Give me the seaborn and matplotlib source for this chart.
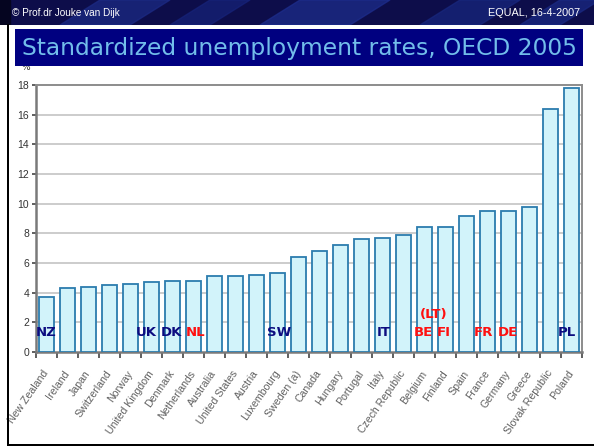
import numpy as np
import pandas as pd
import matplotlib
matplotlib.use("Agg")
import matplotlib.pyplot as plt
from matplotlib.patches import Rectangle, Polygon
import seaborn as sns

countries = ["New Zealand", "Ireland", "Japan", "Switzerland", "Norway",
             "United Kingdom", "Denmark", "Netherlands", "Australia",
             "United States", "Austria", "Luxembourg", "Sweden (a)", "Canada",
             "Hungary", "Portugal", "Italy", "Czech Republic", "Belgium",
             "Finland", "Spain", "France", "Germany", "Greece",
             "Slovak Republic", "Poland"]
rates = [3.7, 4.3, 4.4, 4.5, 4.6, 4.7, 4.8, 4.8, 5.1, 5.1, 5.2, 5.3, 6.4,
         6.8, 7.2, 7.6, 7.7, 7.9, 8.4, 8.4, 9.2, 9.5, 9.5, 9.8, 16.4, 17.8]

# in-bar annotations: text, x position (category units), colour
ann_text = ["NZ", "UK", "DK", "NL", "SW", "IT", "BE", "FI", "FR", "DE", "PL"]
ann_x = [0.0, 4.75, 5.93, 7.12, 11.07, 16.07, 17.93, 18.93, 20.83, 21.98, 24.79]
ann_col = ["navy", "navy", "navy", "red", "navy", "navy", "red", "red",
           "red", "red", "navy"]
yticks = [0, 2, 4, 6, 8, 10, 12, 14, 16, 18]

df = pd.DataFrame({"country": countries, "rate": rates})

sns.set_style("white")
plt.rcParams["font.family"] = ["DejaVu Sans"]

W, H = 594, 447
fig = plt.figure(figsize=(W / 100, H / 100), dpi=100)
fig.patch.set_facecolor("white")

def fx(px):
    return px / W

def fy(py):
    return 1 - py / H

ax = fig.add_axes([fx(36), fy(352), fx(582) - fx(36), fy(85) - fy(352)])
sns.barplot(data=df, x="country", y="rate", color="#d2f3fa",
            edgecolor="#2b7cae", linewidth=1.3, width=0.76, saturation=1,
            ax=ax, zorder=3)
ax.set_xlim(-0.5, len(countries) - 0.5)
ax.set_ylim(0, 18)
ax.set_yticks(yticks)
ax.set_yticklabels([str(v) for v in yticks], family="Liberation Sans",
                   fontsize=7.5, color="#333333")
for v in yticks[1:-1]:
    ax.axhline(v, color="#c4c4c4", lw=1.2, zorder=1)
ax.set_xlabel("")
ax.set_ylabel("")
ax.set_xticks(np.arange(len(countries)))
ax.set_xticklabels(countries, rotation=55, ha="right", va="center",
                   rotation_mode="anchor", family="Liberation Sans",
                   fontsize=7.6, color="#606060")
ax.tick_params(axis="x", which="major", length=0, pad=14)
ax.set_xticks(np.arange(-0.5, len(countries), 1), minor=True)
ax.tick_params(axis="x", which="minor", length=4, width=1.2,
               color="#444444", direction="out", bottom=True)
ax.tick_params(axis="y", length=3, width=1.2, color="#444444",
               direction="out", left=True, pad=2)
for side in ["left", "bottom"]:
    ax.spines[side].set_color("#7a7a7a")
    ax.spines[side].set_linewidth(1.8)
for side in ["top", "right"]:
    ax.spines[side].set_color("#8c8c8c")
    ax.spines[side].set_linewidth(1.4)
    ax.spines[side].set_visible(True)

for t, xpos, c in zip(ann_text, ann_x, ann_col):
    ax.text(xpos, 1.3, t, ha="center", va="center", fontsize=9.5,
            fontweight="bold", color="#0c0c80" if c == "navy" else "#ff1010",
            zorder=5)
ax.text(18.43, 2.55, "(LT)", ha="center", va="center", fontsize=9.5,
        fontweight="bold", color="#ff1010", zorder=5)

# slide decoration: header band
hdr = fig.add_axes([0, fy(25), 1, fy(0) - fy(25)])
hdr.set_xlim(0, W)
hdr.set_ylim(25, 0)
hdr.axis("off")
hdr.add_patch(Rectangle((0, 0), W, 25, color="#0d0d4a"))
for x0, w, col in [(60, 70, "#1c2b86"), (170, 40, "#16237a"),
                   (260, 90, "#1d2e8e"), (420, 60, "#18287f"),
                   (520, 40, "#1a2a85")]:
    hdr.add_patch(Polygon([(x0, 25), (x0 + w, 25), (x0 + w + 40, 0),
                           (x0 + 40, 0)], closed=True, color=col, alpha=0.7))
hdr.add_patch(Rectangle((0, 0), 10, 25, color="#050520"))
hdr.text(12, 13, "\u00a9 Prof.dr Jouke van Dijk", color="white",
         fontsize=7.2, family="Liberation Sans", va="center", ha="left")
hdr.text(580, 13, "EQUAL, 16-4-2007", color="white", fontsize=7.8,
         family="Liberation Sans", va="center", ha="right")

# percent sign partially hidden by the title box
fig.text(fx(26), fy(72), "%", fontsize=6.5, color="#333333",
         ha="center", va="bottom", zorder=1)

# title box
fig.patches.append(Rectangle((fx(15), fy(66)), fx(583) - fx(15),
                             fy(29) - fy(66), transform=fig.transFigure,
                             facecolor="#000080", edgecolor="none",
                             zorder=4))
fig.text(fx(22), fy(48), "Standardized unemployment rates, OECD 2005",
         color="#72bdea", fontsize=16.8, ha="left", va="center", zorder=5)

# slide frame lines
fig.patches.append(Rectangle((fx(6.5), fy(446)), fx(2.5), fy(24) - fy(446),
                             transform=fig.transFigure, facecolor="black",
                             edgecolor="none", zorder=4))
fig.patches.append(Rectangle((fx(6.5), fy(446)), fx(594) - fx(6.5),
                             fy(443.5) - fy(446), transform=fig.transFigure,
                             facecolor="black", edgecolor="none", zorder=4))

fig.savefig("out.png", dpi=100)
